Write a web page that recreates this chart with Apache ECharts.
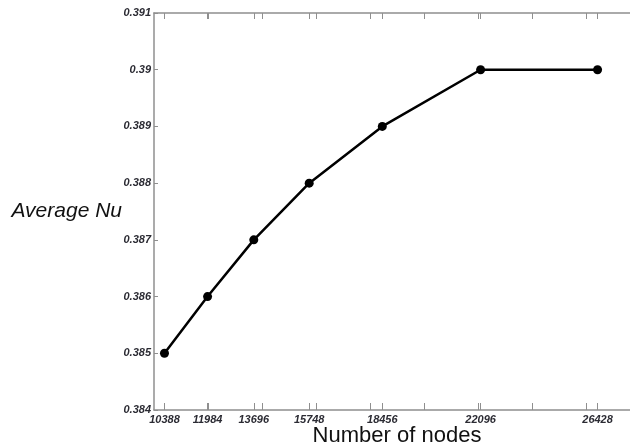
<!DOCTYPE html>
<html>
<head>
<meta charset="utf-8">
<script src="https://cdn.jsdelivr.net/npm/echarts@6/dist/echarts.min.js"></script>
<style>
  html, body { margin: 0; padding: 0; background: #fff; }
  #main { width: 630px; height: 446px; }
</style>
</head>
<body>
<div id="main"></div>
<script>
// grid sizes
var nodes = [10388, 11984, 13696, 15748, 18456, 22096, 26428];
var avgNu = [0.385, 0.386, 0.387, 0.388, 0.389, 0.390, 0.390];
var majorTicks = [12000, 14000, 16000, 18000, 20000, 22000, 24000, 26000];
var yTicks = [0.384, 0.385, 0.386, 0.387, 0.388, 0.389, 0.39, 0.391];

var allTicks = majorTicks.concat(nodes).sort(function (a, b) { return a - b; });

var axisGray = '#8f8f8f';
var labelStyle = {
  color: '#2b2b33',
  fontFamily: 'Liberation Sans, Arial, sans-serif',
  fontStyle: 'italic',
  fontWeight: 'bold',
  fontSize: 11
};

var chart = echarts.init(document.getElementById('main'));

var option = {
  animation: false,
  backgroundColor: '#fff',
  grid: { left: 154, right: -10, top: 13, bottom: 36, outerBoundsMode: 'none', containLabel: false },
  xAxis: [
    {
      type: 'value',
      position: 'bottom',
      min: 10000,
      max: 28000,
      interval: 2000,
      name: 'Number of nodes',
      nameLocation: 'middle',
      nameGap: 15,
      nameMoveOverlap: false,
      nameTextStyle: {
        fontFamily: 'Liberation Sans, Arial, sans-serif',
        fontSize: 22,
        color: '#111',
        verticalAlign: 'top'
      },
      axisLine: { lineStyle: { color: axisGray, width: 1.5 } },
      axisTick: { inside: true, length: 7, lineStyle: { color: axisGray }, customValues: allTicks },
      axisLabel: Object.assign({ margin: 4, customValues: nodes, formatter: function (v) { return String(v); } }, labelStyle),
      splitLine: { show: false }
    },
    {
      type: 'value',
      position: 'top',
      min: 10000,
      max: 28000,
      interval: 2000,
      axisLine: { lineStyle: { color: axisGray, width: 1.5 } },
      axisTick: { inside: true, length: 6, lineStyle: { color: axisGray }, customValues: allTicks },
      axisLabel: { show: false },
      splitLine: { show: false }
    }
  ],
  yAxis: {
    type: 'value',
    min: 0.384,
    max: 0.391,
    interval: 0.001,
    name: 'Average Nu',
    nameLocation: 'middle',
    nameRotate: 0,
    nameGap: 32,
    nameMoveOverlap: false,
    nameTextStyle: {
      fontFamily: 'Liberation Sans, Arial, sans-serif',
      fontStyle: 'italic',
      fontSize: 21,
      color: '#111'
    },
    axisLine: { show: true, lineStyle: { color: axisGray, width: 1.5 } },
    axisTick: { show: true, inside: true, length: 4, lineStyle: { color: axisGray }, customValues: yTicks },
    axisLabel: Object.assign({
      margin: 3,
      customValues: yTicks,
      formatter: function (v) { return String(+v.toFixed(3)); }
    }, labelStyle),
    splitLine: { show: false }
  },
  series: [
    {
      type: 'line',
      data: nodes.map(function (n, i) { return [n, avgNu[i]]; }),
      symbol: 'circle',
      symbolSize: 9,
      itemStyle: { color: '#000' },
      lineStyle: { color: '#000', width: 2.5 }
    }
  ]
};

chart.setOption(option);
</script>
</body>
</html>
